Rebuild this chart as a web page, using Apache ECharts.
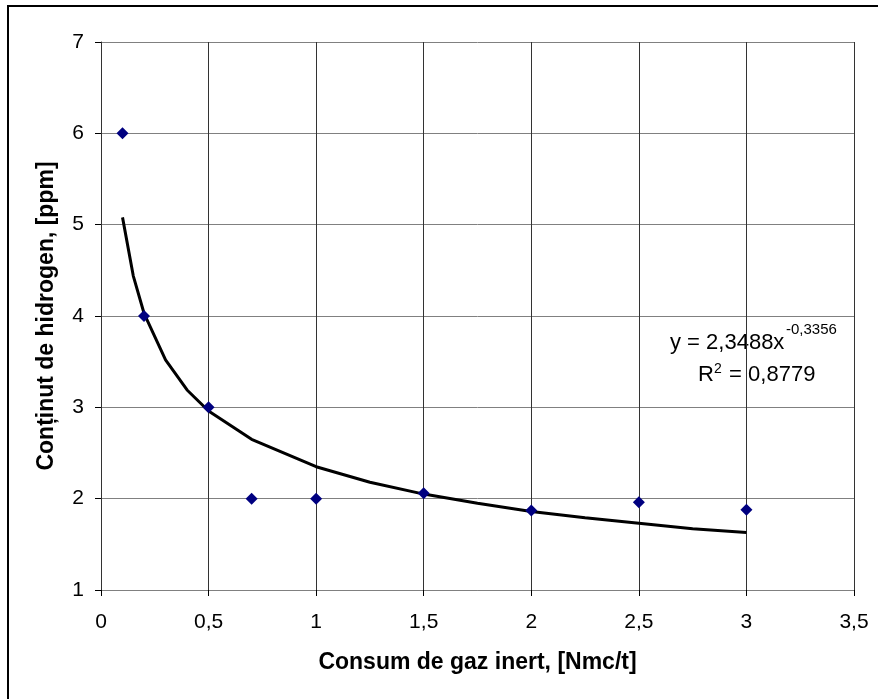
<!DOCTYPE html>
<html>
<head>
<meta charset="utf-8">
<style>
  html, body { margin: 0; padding: 0; background: #ffffff; }
  #chart { width: 878px; height: 699px; }
</style>
<script src="https://cdn.jsdelivr.net/npm/echarts@6/dist/echarts.min.js"></script>
</head>
<body>
<div id="chart"></div>
<script>
  // puncte masurate
  var consumGaz = [0.1, 0.2, 0.5, 0.7, 1, 1.5, 2, 2.5, 3];
  var continutH = [6, 4, 3, 2, 2, 2.06, 1.87, 1.96, 1.88];
  // linia de tendinta
  var trendX = [0.1, 0.15, 0.2, 0.3, 0.4, 0.5, 0.7, 1, 1.25, 1.5, 1.75, 2, 2.25, 2.5, 2.75, 3];
  var trendY = [5.08, 4.44, 4.03, 3.52, 3.19, 2.96, 2.65, 2.35, 2.18, 2.05, 1.95, 1.86, 1.79, 1.73, 1.67, 1.63];

  var font = '"Liberation Sans", Arial, sans-serif';

  var scatterData = consumGaz.map(function (x, i) { return [x, continutH[i]]; });
  var trendData = trendX.map(function (x, i) { return [x, trendY[i]]; });

  function comma(v) {
    return String(v).replace('.', ',');
  }

  var chart = echarts.init(document.getElementById('chart'));

  var option = {
    backgroundColor: '#ffffff',
    animation: false,
    grid: {
      left: 101,
      right: 24,
      top: 42,
      bottom: 109
    },
    xAxis: {
      type: 'value',
      min: 0,
      max: 3.5,
      interval: 0.5,
      name: 'Consum de gaz inert, [Nmc/t]',
      nameLocation: 'middle',
      nameGap: 61,
      nameTextStyle: { color: '#000', fontFamily: font, fontSize: 23, fontWeight: 'bold' },
      axisLine: { show: true, lineStyle: { color: '#808080', width: 1 } },
      axisTick: { show: true, length: 6, inside: false, lineStyle: { color: '#000' } },
      axisLabel: { color: '#000', fontFamily: font, fontSize: 21, margin: 22, formatter: comma },
      splitLine: { show: true, lineStyle: { color: '#333', width: 1 } }
    },
    yAxis: {
      type: 'value',
      min: 1,
      max: 7,
      interval: 1,
      name: 'Conținut de hidrogen, [ppm]',
      nameLocation: 'middle',
      nameGap: 43,
      nameTextStyle: { color: '#000', fontFamily: font, fontSize: 23, fontWeight: 'bold' },
      axisLine: { show: true, lineStyle: { color: '#333', width: 1 } },
      axisTick: { show: true, length: 6, lineStyle: { color: '#000' } },
      axisLabel: { color: '#000', fontFamily: font, fontSize: 21, margin: 17, formatter: comma },
      splitLine: { show: true, lineStyle: { color: '#808080', width: 1 } }
    },
    graphic: [
      // chenarul exterior
      {
        type: 'rect',
        shape: { x: 8, y: 6, width: 890, height: 710 },
        style: { fill: 'none', stroke: '#000', lineWidth: 2 },
        silent: true
      },
      // ecuatia
      {
        type: 'text', left: 670, top: 332,
        style: { text: 'y = 2,3488x', fill: '#000', font: '22px ' + font }
      },
      {
        type: 'text', left: 786, top: 322,
        style: { text: '-0,3356', fill: '#000', font: '15px ' + font }
      },
      {
        type: 'text', left: 698, top: 364,
        style: { text: 'R', fill: '#000', font: '22px ' + font }
      },
      {
        type: 'text', left: 714, top: 362,
        style: { text: '2', fill: '#000', font: '14px ' + font }
      },
      {
        type: 'text', left: 723, top: 364,
        style: { text: ' = 0,8779', fill: '#000', font: '22px ' + font }
      }
    ],
    series: [
      {
        // linia de tendinta
        type: 'line',
        data: trendData,
        showSymbol: false,
        symbol: 'none',
        smooth: false,
        lineStyle: { color: '#000', width: 3 },
        z: 3
      },
      {
        type: 'scatter',
        data: scatterData,
        symbol: 'diamond',
        symbolSize: 12,
        itemStyle: { color: '#000080', opacity: 1 },
        z: 4
      }
    ]
  };

  chart.setOption(option);
</script>
</body>
</html>
